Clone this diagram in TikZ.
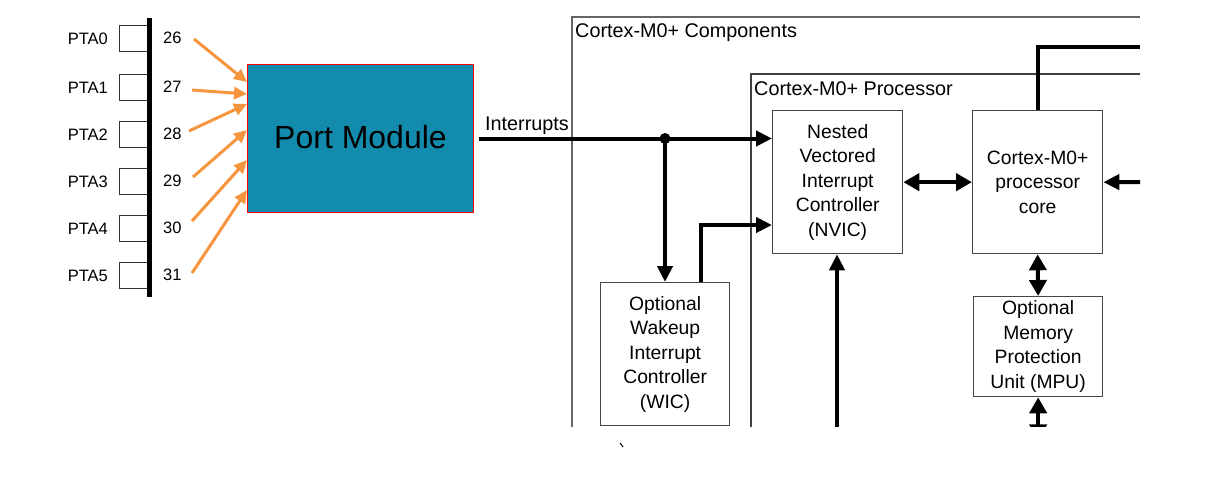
\documentclass[tikz,border=0pt]{standalone}
\usepackage{fontspec}
\setmainfont{Liberation Sans}
\usetikzlibrary{arrows.meta,calc}
\definecolor{teal1}{RGB}{19,139,172}
\definecolor{orng}{RGB}{247,148,62}
\definecolor{bgray}{RGB}{70,70,70}
\begin{document}
\begin{tikzpicture}[x=1pt,y=-1pt,
  blk/.style={draw=bgray, line width=1.3pt, fill=white, align=center, font=\fontsize{19.3}{24.5}\selectfont, anchor=north west, inner sep=0pt},
  conn/.style={line width=4pt, -{Triangle[length=16pt,width=15pt]}},
  dconn/.style={line width=4pt, {Triangle[length=16pt,width=17pt]}-{Triangle[length=16pt,width=17pt]}},
  pinbox/.style={draw=black!80, line width=1.2pt, minimum width=29pt, minimum height=26pt, anchor=north east, inner sep=0pt},
  oarr/.style={draw=orng, line width=3pt, -{Triangle[length=13pt,width=12pt]}},
  frame/.style={draw=black!75, line width=1.3pt},
  lbl/.style={font=\fontsize{16.5}{19}\selectfont, inner sep=0pt},
  hdr/.style={font=\fontsize{19.8}{24}\selectfont, inner sep=0pt, anchor=base west},
]
\useasboundingbox (0,0) rectangle (1214,490);

% pins
\foreach \i/\y/\n in {0/25/26,1/74/27,2/121/28,3/168/29,4/215/30,5/262/31}{
  \node[pinbox] (p\i) at (149,\y) {};
  \node[lbl, anchor=east] (pl\i) at (108,\y+14) {PTA\i};
  \node[lbl, anchor=west] (pn\i) at (163,\y+13) {\n};
}
\draw[line width=5pt] (149.5,18) -- (149.5,297);

% port module
\node[draw=red, line width=1pt, fill=teal1, minimum width=226pt, minimum height=148pt, anchor=north west, inner sep=0pt, font=\fontsize{32}{38}\selectfont] (pm) at (247,64) {\raisebox{3pt}{Port Module}};

% orange arrows
\coordinate (s0) at (194,39);  \coordinate (e0) at (247,82);
\coordinate (s1) at (192,90);  \coordinate (e1) at (247,94);
\coordinate (s2) at (189,131); \coordinate (e2) at (247,104);
\coordinate (s3) at (193,177); \coordinate (e3) at (247,130);
\coordinate (s4) at (192,221); \coordinate (e4) at (247,160);
\coordinate (s5) at (192,273); \coordinate (e5) at (247,190);
\foreach \i in {0,...,5}{ \draw[oarr] (s\i) -- (e\i); }

% frames
\draw[frame, draw=black!60, line width=1.8pt] (572,427) -- (572,17) -- (1140,17);
\draw[frame] (751,427) -- (751,74) -- (1140,74);
\node[hdr] (lcomp) at (575,37) {Cortex-M0+ Components};
\node[hdr] (lproc) at (754,95) {Cortex-M0+ Processor};

% blocks
\node[blk, minimum width=130pt, minimum height=143pt] (nvic) at (772,110) {Nested\\Vectored\\Interrupt\\Controller\\(NVIC)};
\node[blk, minimum width=130pt, minimum height=143pt] (core) at (972,110) {Cortex-M0+\\processor\\core};
\node[blk, minimum width=129pt, minimum height=100pt] (mpu) at (973,296) {Optional\\Memory\\Protection\\Unit (MPU)};
\node[blk, minimum width=129pt, minimum height=143pt] (wic) at (600,282) {Optional\\Wakeup\\Interrupt\\Controller\\(WIC)};

% interrupts
\node[hdr] (lint) at (485,130) {Interrupts};
\coordinate (intstart) at (479,138.5);
\coordinate (jn) at (665,138.5);
\draw[conn] (intstart) -- (intstart -| nvic.west);
\fill (jn) circle (5.5);
\draw[conn] (jn) -- (jn |- wic.north);
\coordinate (wicout) at (701,282);
\coordinate (nvicin2) at (772,225);
\draw[conn] (wicout) |- (nvicin2);

% processor connections
\draw[dconn] (nvic.east) -- (core.west);
\coordinate (rin) at (1140,182);
\draw[conn] (rin) -- (core.east);
\coordinate (topout) at (1140,47);
\draw[line width=4pt] (core.north) |- (topout);
\draw[dconn] (core.south) -- (mpu.north);
\coordinate (nvicbot) at (837,427);
\draw[conn] (nvicbot) -- (nvicbot |- nvic.south);
\begin{scope}
  \clip (1000,390) rectangle (1080,426.5);
  \draw[dconn] (mpu.south) -- ++(0,43);
\end{scope}
\draw[line width=1pt] (620,443) -- (623,447);
\end{tikzpicture}
\end{document}
